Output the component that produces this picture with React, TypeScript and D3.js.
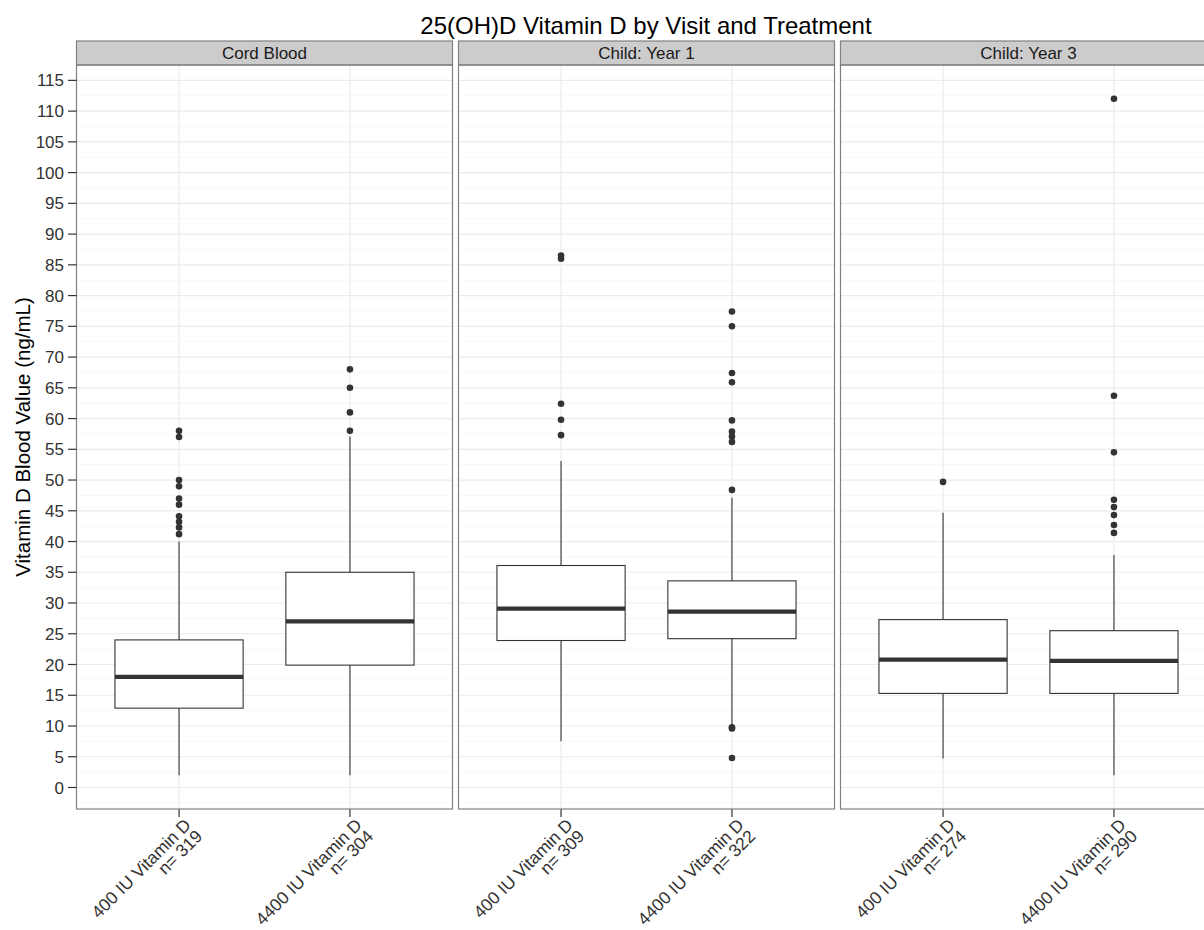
import React from "react";
import * as d3 from "d3";

// facets and groups
const facets = ["Cord Blood", "Child: Year 1", "Child: Year 3"];
const treatments = ["400 IU Vitamin D", "4400 IU Vitamin D"];
const nCounts = [319, 304, 309, 322, 274, 290];

// box stats, one per facet x treatment (in facet order)
const whiskerLow = [2, 2, 7.5, 10.2, 4.7, 2];
const q1 = [12.9, 19.9, 23.9, 24.2, 15.3, 15.3];
const median = [18, 27, 29.1, 28.6, 20.8, 20.6];
const q3 = [24, 35, 36.1, 33.6, 27.3, 25.5];
const whiskerHigh = [40, 57.1, 53.1, 47.1, 44.7, 37.8];
const outliers = [
  [58, 57, 50, 49, 47, 46, 44.1, 43.2, 42.3, 41.2],
  [68, 65, 61, 58],
  [86.5, 86, 62.4, 59.8, 57.3],
  [77.4, 75, 67.4, 65.9, 59.7, 57.9, 57.1, 56.2, 48.4, 9.8, 9.6, 4.8],
  [49.7],
  [112, 63.7, 54.5, 46.8, 45.6, 44.3, 42.7, 41.4],
];
const yTicks = d3.range(0, 116, 5);

const FONT = "'Liberation Sans', Arial, sans-serif";
const W = 1204,
  H = 930;
const panelTop = 65,
  panelBottom = 809,
  stripTop = 41;

export default function App() {
  const fx = d3
    .scaleBand()
    .domain(facets)
    .range([76.5, 1216.5])
    .paddingInner(6 / 382);
  const px = d3
    .scalePoint()
    .domain(treatments)
    .range([0, fx.bandwidth()])
    .padding(0.6);
  const boxW = px.step() * 0.75;

  const lo = d3.min(whiskerLow) as number;
  const hi = d3.max(outliers.flat()) as number;
  const pad = (hi - lo) * 0.05;
  const y = d3
    .scaleLinear()
    .domain([lo - pad, hi + pad])
    .range([panelBottom, panelTop]);
  const minorTicks = d3.range(-2.5, 118, 5).filter((v) => v > lo - pad && v < hi + pad);

  const groups = facets.flatMap((f, fi) =>
    treatments.map((t, ti) => ({ f, t, i: fi * 2 + ti }))
  );

  return (
    <svg
      width={W}
      height={H}
      style={{ position: "absolute", left: 0, top: 0, background: "#fff" }}
      fontFamily={FONT}
    >
      <text x={646} y={34} textAnchor="middle" fontSize={24} fill="#000">
        25(OH)D Vitamin D by Visit and Treatment
      </text>

      {facets.map((f) => {
        const x0 = fx(f) as number;
        const bw = fx.bandwidth();
        return (
          <g key={f}>
            <rect x={x0} y={panelTop} width={bw} height={panelBottom - panelTop} fill="#fff" />
            {minorTicks.map((v) => (
              <line key={"m" + v} x1={x0} x2={x0 + bw} y1={y(v)} y2={y(v)} stroke="#f5f5f5" strokeWidth={0.8} />
            ))}
            {yTicks.map((v) => (
              <line key={"M" + v} x1={x0} x2={x0 + bw} y1={y(v)} y2={y(v)} stroke="#ebebeb" strokeWidth={1.2} />
            ))}
            {treatments.map((t) => (
              <line key={t} x1={x0 + (px(t) as number)} x2={x0 + (px(t) as number)} y1={panelTop} y2={panelBottom} stroke="#ebebeb" strokeWidth={1.2} />
            ))}
            <rect x={x0} y={stripTop} width={bw} height={panelTop - stripTop} fill="#cccccc" stroke="#808080" strokeWidth={1.2} />
            <text x={x0 + bw / 2} y={59} textAnchor="middle" fontSize={17} fill="#1a1a1a">
              {f}
            </text>
            {treatments.map((t) => {
              const cx = x0 + (px(t) as number);
              return <line key={"t" + t} x1={cx} x2={cx} y1={panelBottom} y2={panelBottom + 8} stroke="#333" strokeWidth={1.2} />;
            })}
          </g>
        );
      })}

      {groups.map(({ f, t, i }) => {
        const cx = (fx(f) as number) + (px(t) as number);
        return (
          <g key={i}>
            {outliers[i].map((v, k) => (
              <circle key={k} cx={cx} cy={y(v)} r={3.3} fill="#333" />
            ))}
            <line x1={cx} x2={cx} y1={y(whiskerLow[i])} y2={y(q1[i])} stroke="#333" strokeWidth={1.1} />
            <line x1={cx} x2={cx} y1={y(q3[i])} y2={y(whiskerHigh[i])} stroke="#333" strokeWidth={1.1} />
            <rect x={cx - boxW / 2} y={y(q3[i])} width={boxW} height={y(q1[i]) - y(q3[i])} fill="#fff" stroke="#333" strokeWidth={1.1} />
            <line x1={cx - boxW / 2} x2={cx + boxW / 2} y1={y(median[i])} y2={y(median[i])} stroke="#333" strokeWidth={4.2} />
            <g transform={`translate(${cx + 13},${panelBottom + 17}) rotate(-45)`}>
              <text textAnchor="end" fontSize={17.5} fill="#333">
                <tspan x={0} dy={0}>{t}</tspan>
                <tspan x={0} dy="0.92em">{`n= ${nCounts[i]}`}</tspan>
              </text>
            </g>
          </g>
        );
      })}

      {facets.map((f) => (
        <rect key={"b" + f} x={fx(f) as number} y={panelTop} width={fx.bandwidth()} height={panelBottom - panelTop} fill="none" stroke="#808080" strokeWidth={1.2} />
      ))}

      {yTicks.map((v) => (
        <g key={v} transform={`translate(0,${y(v)})`}>
          <line x1={68} x2={76.5} stroke="#333" strokeWidth={1.2} />
          <text x={64} dy="0.36em" textAnchor="end" fontSize={17} fill="#333">
            {v}
          </text>
        </g>
      ))}

      <text
        transform={`translate(30,${(panelTop + panelBottom) / 2}) rotate(-90)`}
        textAnchor="middle"
        fontSize={20.5}
        fill="#000"
      >
        Vitamin D Blood Value (ng/mL)
      </text>
    </svg>
  );
}
